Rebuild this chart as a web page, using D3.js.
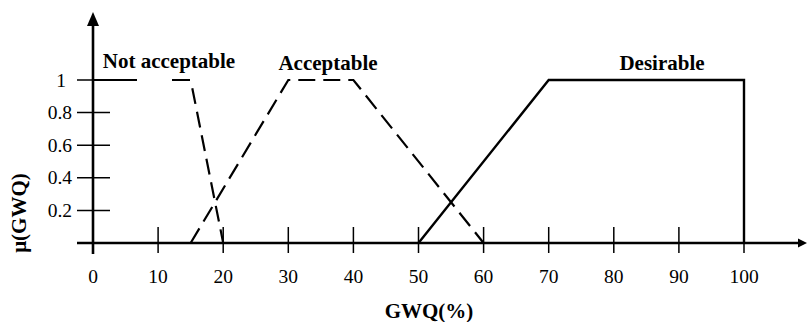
<!DOCTYPE html>
<html><head><meta charset="utf-8">
<script src="https://cdn.jsdelivr.net/npm/d3@7"></script>
<style>
html,body{margin:0;padding:0;background:#fff;}
</style></head>
<body><svg id="c" width="807" height="322"></svg>
<script>
const xTicks = [10,20,30,40,50,60,70,80,90,100];
const xTickLabels = ["0","10","20","30","40","50","60","70","80","90","100"];
const yTicks = [0.2,0.4,0.6,0.8,1];
const yTickLabels = ["0.2","0.4","0.6","0.8","1"];
const notAcceptable = [[0,1],[15,1],[20,0]];
const acceptable = [[15,0],[30,1],[40,1],[60,0]];
const desirable = [[50,0],[70,1],[100,1],[100,0]];
const seriesNames = ["Not acceptable","Acceptable","Desirable"];

const FONT = "'Liberation Serif', 'Times New Roman', Times, 'DejaVu Serif', serif";
const svg = d3.select("#c").attr("font-family", FONT);
const x = d3.scaleLinear().domain([0,100]).range([93,744]);
const y = d3.scaleLinear().domain([0,1]).range([243,80]);

// axes lines
svg.append("line").attr("x1",77).attr("x2",800).attr("y1",y(0)).attr("y2",y(0))
  .attr("stroke","#000").attr("stroke-width",2.6);
svg.append("path").attr("d",`M807,${y(0)} L798,${y(0)-4.5} L798,${y(0)+4.5} Z`).attr("fill","#000");
svg.append("line").attr("x1",x(0)).attr("x2",x(0)).attr("y1",254).attr("y2",24)
  .attr("stroke","#000").attr("stroke-width",2.6);
svg.append("path").attr("d",`M${x(0)},12 L${x(0)-6},26 L${x(0)+6},26 Z`).attr("fill","#000");

// x ticks
const gx = svg.append("g");
gx.selectAll("line").data(xTicks).join("line")
  .attr("x1",d=>x(d)).attr("x2",d=>x(d)).attr("y1",y(0)-16).attr("y2",y(0)+10)
  .attr("stroke","#000").attr("stroke-width",1.5);
gx.selectAll("text").data([0].concat(xTicks)).join("text")
  .attr("x",d=>x(d)).attr("y",283).attr("text-anchor","middle")
  .attr("font-family",FONT).attr("font-size",19.5).text((d,i)=>xTickLabels[i]);

// y ticks
const gy = svg.append("g");
gy.selectAll("line").data(yTicks).join("line")
  .attr("x1",77).attr("x2",110).attr("y1",d=>y(d)).attr("y2",d=>y(d))
  .attr("stroke","#000").attr("stroke-width",1.5);
gy.selectAll("text").data(yTicks).join("text")
  .attr("x",d=>d===1?66:72).attr("y",d=>y(d)+6.5).attr("text-anchor","end")
  .attr("font-family",FONT).attr("font-size",19.5).text((d,i)=>yTickLabels[i]);

// series
const line = d3.line().x(d=>x(d[0])).y(d=>y(d[1]));
svg.append("path").datum(notAcceptable).attr("d",line).attr("fill","none")
  .attr("stroke","#000").attr("stroke-width",2.2).attr("stroke-dasharray","44,35,18,9,16,8,16,8,16,8,16,8,16,8,16,8");
svg.append("path").datum(acceptable).attr("d",line).attr("fill","none")
  .attr("stroke","#000").attr("stroke-width",2.2).attr("stroke-dasharray","17,8");
svg.append("path").datum(desirable).attr("d",line).attr("fill","none")
  .attr("stroke","#000").attr("stroke-width",2.4);

// series labels
const labelPos = [[169,68],[328,70],[662,70]];
svg.selectAll("text.lab").data(seriesNames).join("text").attr("class","lab")
  .attr("x",(d,i)=>labelPos[i][0]).attr("y",(d,i)=>labelPos[i][1])
  .attr("text-anchor","middle").attr("font-family",FONT).attr("font-size",21).attr("font-weight","bold")
  .text(d=>d);

// axis titles
svg.append("text").attr("transform","translate(26,213) rotate(-90)")
  .attr("text-anchor","middle").attr("font-family",FONT).attr("font-size",21).attr("font-weight","bold")
  .text("μ(GWQ)");
svg.append("text").attr("x",429).attr("y",318).attr("text-anchor","middle")
  .attr("font-family",FONT).attr("font-size",21).attr("font-weight","bold").text("GWQ(%)");
</script></body></html>
